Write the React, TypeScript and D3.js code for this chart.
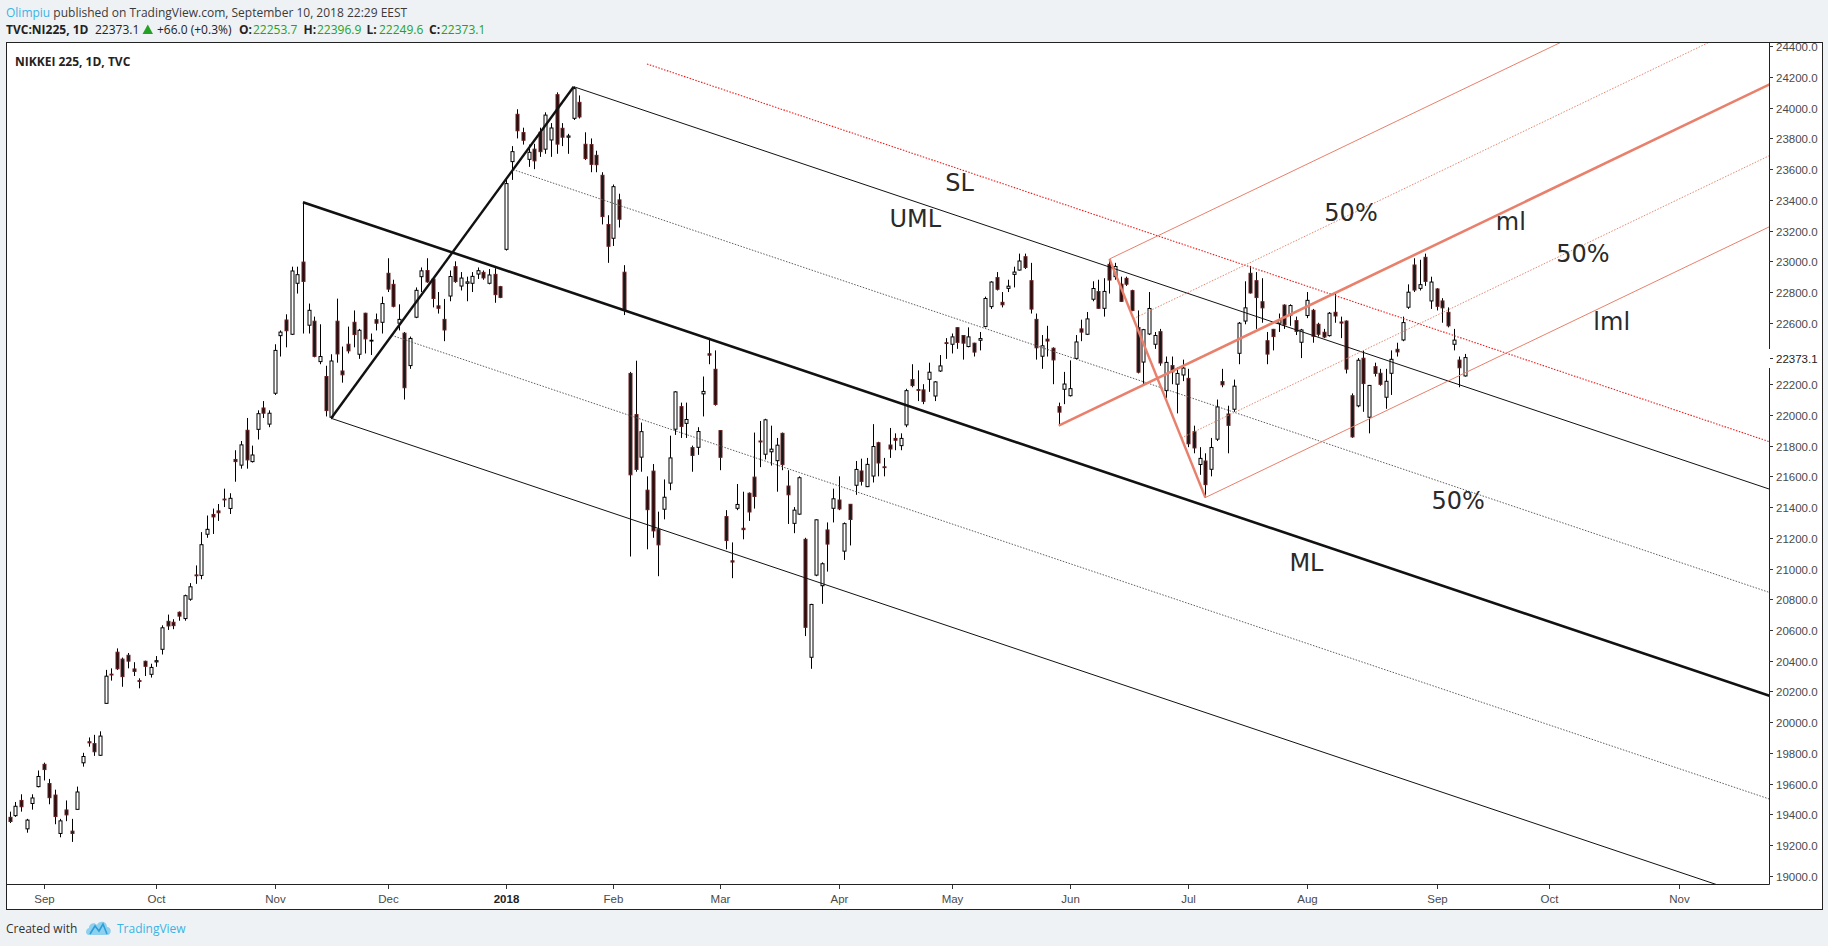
import * as d3 from "d3";
import { useEffect, useRef } from "react";

// [date, open, high, low, close]
type Bar = [string, number, number, number, number];

const bars: Bar[] = [
  ["2017-08-24", 19380, 19417, 19343, 19353],
  ["2017-08-25", 19391, 19480, 19383, 19452],
  ["2017-08-28", 19490, 19530, 19417, 19449],
  ["2017-08-29", 19305, 19370, 19280, 19362],
  ["2017-08-30", 19470, 19530, 19430, 19506],
  ["2017-08-31", 19580, 19685, 19575, 19646],
  ["2017-09-01", 19725, 19736, 19620, 19691],
  ["2017-09-04", 19600, 19630, 19465, 19508],
  ["2017-09-05", 19525, 19560, 19335, 19385],
  ["2017-09-06", 19275, 19370, 19250, 19357],
  ["2017-09-07", 19428, 19490, 19355, 19396],
  ["2017-09-08", 19290, 19370, 19220, 19275],
  ["2017-09-11", 19432, 19580, 19430, 19545],
  ["2017-09-12", 19735, 19800, 19710, 19776],
  ["2017-09-13", 19872, 19900, 19840, 19865],
  ["2017-09-14", 19860, 19917, 19780, 19807],
  ["2017-09-15", 19784, 19940, 19780, 19909],
  ["2017-09-19", 20122, 20340, 20120, 20299],
  ["2017-09-20", 20312, 20350, 20270, 20310],
  ["2017-09-21", 20455, 20480, 20340, 20347],
  ["2017-09-22", 20410, 20420, 20230, 20296],
  ["2017-09-25", 20435, 20450, 20350, 20397],
  ["2017-09-26", 20346, 20390, 20300, 20330],
  ["2017-09-27", 20270, 20285, 20220, 20267],
  ["2017-09-28", 20396, 20400, 20300, 20363],
  ["2017-09-29", 20311, 20380, 20290, 20356],
  ["2017-10-02", 20392, 20430, 20360, 20400],
  ["2017-10-03", 20474, 20630, 20440, 20614],
  ["2017-10-04", 20656, 20700, 20600, 20626],
  ["2017-10-05", 20650, 20670, 20605, 20628],
  ["2017-10-06", 20715, 20720, 20660, 20690],
  ["2017-10-10", 20674, 20830, 20660, 20823],
  ["2017-10-11", 20800, 20905, 20790, 20881],
  ["2017-10-12", 20958, 21020, 20900, 20954],
  ["2017-10-13", 20955, 21237, 20930, 21155],
  ["2017-10-16", 21223, 21345, 21200, 21255],
  ["2017-10-17", 21352, 21390, 21225, 21336],
  ["2017-10-18", 21375, 21420, 21310, 21363],
  ["2017-10-19", 21452, 21520, 21400, 21448],
  ["2017-10-20", 21391, 21490, 21355, 21457],
  ["2017-10-23", 21710, 21770, 21565, 21696],
  ["2017-10-24", 21673, 21830, 21650, 21805],
  ["2017-10-25", 21900, 21980, 21650, 21707],
  ["2017-10-26", 21696, 21800, 21690, 21739],
  ["2017-10-27", 21906, 22030, 21840, 22008],
  ["2017-10-30", 22045, 22090, 21980, 22011],
  ["2017-10-31", 21940, 22030, 21920, 22011],
  ["2017-11-01", 22141, 22460, 22130, 22420],
  ["2017-11-02", 22516, 22550, 22380, 22539],
  ["2017-11-06", 22618, 22655, 22440, 22548],
  ["2017-11-07", 22525, 22965, 22520, 22937],
  ["2017-11-08", 22857, 22965, 22790, 22913],
  ["2017-11-09", 22995, 23385, 22530, 22869],
  ["2017-11-10", 22584, 22725, 22530, 22681],
  ["2017-11-13", 22610, 22640, 22375, 22381],
  ["2017-11-14", 22347, 22590, 22330, 22380],
  ["2017-11-15", 22250, 22320, 21990, 22028],
  ["2017-11-16", 21985, 22395, 21972, 22351],
  ["2017-11-17", 22610, 22757, 22340, 22397],
  ["2017-11-20", 22286, 22445, 22210, 22261],
  ["2017-11-21", 22460, 22575, 22400, 22417],
  ["2017-11-22", 22603, 22680, 22440, 22523],
  ["2017-11-24", 22395, 22560, 22365, 22551],
  ["2017-11-27", 22662, 22665, 22400, 22495],
  ["2017-11-28", 22481, 22530, 22390, 22486],
  ["2017-11-29", 22620, 22660, 22550, 22597],
  ["2017-11-30", 22603, 22770, 22530, 22725],
  ["2017-12-01", 22922, 23020, 22800, 22819],
  ["2017-12-04", 22850, 22880, 22700, 22707],
  ["2017-12-05", 22597, 22720, 22550, 22622],
  ["2017-12-06", 22532, 22540, 22100, 22177],
  ["2017-12-07", 22321, 22510, 22300, 22498],
  ["2017-12-08", 22636, 22830, 22630, 22811],
  ["2017-12-11", 22900, 22960, 22800, 22938],
  ["2017-12-12", 22940, 23020, 22860, 22866],
  ["2017-12-13", 22884, 22890, 22700, 22758],
  ["2017-12-14", 22710, 22800, 22660, 22694],
  ["2017-12-15", 22622, 22755, 22480, 22553],
  ["2017-12-18", 22774, 22940, 22740, 22901],
  ["2017-12-19", 22965, 23000, 22860, 22868],
  ["2017-12-20", 22839, 22930, 22810, 22891],
  ["2017-12-21", 22857, 22900, 22740, 22866],
  ["2017-12-22", 22857, 22930, 22800, 22902],
  ["2017-12-25", 22917, 22960, 22885, 22939],
  ["2017-12-26", 22928, 22940, 22880, 22892],
  ["2017-12-27", 22857, 22950, 22850, 22911],
  ["2017-12-28", 22915, 22955, 22730, 22783],
  ["2017-12-29", 22835, 22840, 22760, 22765],
  ["2018-01-04", 23078, 23530, 23070, 23506],
  ["2018-01-05", 23649, 23750, 23530, 23714],
  ["2018-01-09", 23957, 23990, 23800, 23850],
  ["2018-01-10", 23838, 23870, 23760, 23788],
  ["2018-01-11", 23664, 23760, 23615, 23710],
  ["2018-01-12", 23730, 23765, 23600, 23654],
  ["2018-01-15", 23840, 23870, 23680, 23714],
  ["2018-01-16", 23730, 23970, 23700, 23952],
  ["2018-01-17", 23790, 23900, 23680, 23868],
  ["2018-01-18", 24085, 24100, 23700, 23763],
  ["2018-01-19", 23866, 23900, 23750, 23808],
  ["2018-01-22", 23808, 23830, 23700, 23816],
  ["2018-01-23", 23931, 24137, 23920, 24124],
  ["2018-01-24", 24035, 24080, 23930, 23940],
  ["2018-01-25", 23762, 23840, 23660, 23669],
  ["2018-01-26", 23760, 23800, 23580, 23631],
  ["2018-01-29", 23690, 23720, 23580, 23629],
  ["2018-01-30", 23560, 23580, 23240, 23291],
  ["2018-01-31", 23240, 23300, 22990, 23098],
  ["2018-02-01", 23150, 23500, 23100, 23486],
  ["2018-02-02", 23400, 23440, 23220, 23274],
  ["2018-02-05", 22929, 22975, 22650, 22682],
  ["2018-02-06", 22270, 22280, 21078, 21610],
  ["2018-02-07", 22002, 22353, 21630, 21645],
  ["2018-02-08", 21725, 21950, 21630, 21891],
  ["2018-02-09", 21510, 21600, 21125, 21383],
  ["2018-02-13", 21634, 21680, 21200, 21245],
  ["2018-02-14", 21256, 21370, 20950, 21154],
  ["2018-02-15", 21386, 21580, 21320, 21464],
  ["2018-02-16", 21556, 21865, 21510, 21720],
  ["2018-02-19", 21907, 22155, 21870, 22150],
  ["2018-02-20", 22054, 22080, 21850, 21925],
  ["2018-02-21", 21945, 22080, 21850, 21970],
  ["2018-02-22", 21787, 21800, 21630, 21736],
  ["2018-02-23", 21789, 21920, 21740, 21892],
  ["2018-02-26", 22137, 22250, 21990, 22153],
  ["2018-02-27", 22398, 22502, 22330, 22389],
  ["2018-02-28", 22297, 22420, 22060, 22068],
  ["2018-03-01", 21898, 21900, 21640, 21724],
  ["2018-03-02", 21338, 21380, 21125, 21182],
  ["2018-03-05", 21050, 21170, 20937, 21042],
  ["2018-03-06", 21392, 21550, 21380, 21417],
  ["2018-03-07", 21262, 21500, 21190, 21253],
  ["2018-03-08", 21490, 21495, 21310, 21368],
  ["2018-03-09", 21595, 21885, 21390, 21469],
  ["2018-03-12", 21830, 21960, 21660, 21824],
  ["2018-03-13", 21744, 21975, 21710, 21968],
  ["2018-03-14", 21760, 21930, 21670, 21777],
  ["2018-03-15", 21702, 21850, 21500, 21803],
  ["2018-03-16", 21880, 21885, 21640, 21676],
  ["2018-03-19", 21537, 21640, 21290, 21480],
  ["2018-03-20", 21294, 21400, 21230, 21380],
  ["2018-03-22", 21354, 21600, 21350, 21591],
  ["2018-03-23", 21190, 21200, 20560, 20617],
  ["2018-03-26", 20422, 20770, 20347, 20766],
  ["2018-03-27", 20957, 21320, 20950, 21317],
  ["2018-03-28", 20888, 21040, 20770, 21031],
  ["2018-03-29", 21251, 21300, 20980, 21159],
  ["2018-03-30", 21392, 21520, 21300, 21454],
  ["2018-04-02", 21446, 21600, 21380, 21388],
  ["2018-04-03", 21113, 21300, 21056, 21292],
  ["2018-04-04", 21418, 21420, 21150, 21319],
  ["2018-04-05", 21542, 21700, 21480, 21645],
  ["2018-04-06", 21635, 21715, 21540, 21567],
  ["2018-04-09", 21533, 21720, 21530, 21678],
  ["2018-04-10", 21602, 21940, 21560, 21794],
  ["2018-04-11", 21819, 21825, 21600, 21687],
  ["2018-04-12", 21662, 21720, 21600, 21660],
  ["2018-04-13", 21804, 21915, 21720, 21778],
  ["2018-04-16", 21847, 21880, 21770, 21835],
  ["2018-04-17", 21800, 21880, 21770, 21847],
  ["2018-04-18", 21935, 22170, 21920, 22158],
  ["2018-04-19", 22230, 22330, 22180, 22191],
  ["2018-04-20", 22165, 22290, 22090, 22162],
  ["2018-04-23", 22163, 22200, 22070, 22088],
  ["2018-04-24", 22232, 22340, 22150, 22278],
  ["2018-04-25", 22123, 22220, 22090, 22215],
  ["2018-04-26", 22286, 22390, 22280, 22319],
  ["2018-04-27", 22470, 22500, 22365, 22467],
  ["2018-05-01", 22460, 22530, 22400, 22508],
  ["2018-05-02", 22568, 22570, 22430, 22472],
  ["2018-05-07", 22517, 22520, 22360, 22467],
  ["2018-05-08", 22445, 22570, 22440, 22508],
  ["2018-05-09", 22467, 22470, 22380, 22409],
  ["2018-05-10", 22486, 22540, 22420, 22497],
  ["2018-05-11", 22575, 22770, 22570, 22758],
  ["2018-05-14", 22705, 22870, 22690, 22865],
  ["2018-05-15", 22894, 22930, 22810, 22818],
  ["2018-05-16", 22733, 22800, 22700, 22717],
  ["2018-05-17", 22824, 22880, 22800, 22838],
  ["2018-05-18", 22915, 22965, 22830, 22930],
  ["2018-05-21", 22943, 23050, 22940, 23002],
  ["2018-05-22", 23030, 23050, 22950, 22960],
  ["2018-05-23", 22874, 22990, 22660, 22689],
  ["2018-05-24", 22622, 22660, 22360, 22437],
  ["2018-05-25", 22382, 22520, 22300, 22450],
  ["2018-05-28", 22493, 22580, 22380, 22481],
  ["2018-05-29", 22434, 22440, 22200, 22358],
  ["2018-05-30", 22054, 22080, 21930, 22018],
  ["2018-05-31", 22167, 22280, 22070, 22201],
  ["2018-06-01", 22125, 22355, 22120, 22171],
  ["2018-06-04", 22368, 22520, 22360, 22475],
  ["2018-06-05", 22560, 22620, 22480, 22539],
  ["2018-06-06", 22525, 22670, 22520, 22625],
  ["2018-06-07", 22753, 22870, 22740, 22823],
  ["2018-06-08", 22803, 22880, 22690, 22694],
  ["2018-06-11", 22694, 22890, 22640, 22804],
  ["2018-06-12", 22980, 23015, 22790, 22878],
  ["2018-06-13", 22900, 22990, 22880, 22966],
  ["2018-06-14", 22851, 22900, 22735, 22739],
  ["2018-06-15", 22889, 22900, 22840, 22851],
  ["2018-06-18", 22809, 22815, 22675, 22680],
  ["2018-06-19", 22569, 22680, 22270, 22278],
  ["2018-06-20", 22344, 22560, 22200, 22555],
  ["2018-06-21", 22527, 22800, 22520, 22693],
  ["2018-06-22", 22460, 22540, 22430, 22517],
  ["2018-06-25", 22542, 22560, 22320, 22338],
  ["2018-06-26", 22158, 22380, 22110, 22342],
  ["2018-06-27", 22321, 22380, 22200, 22280],
  ["2018-06-28", 22200, 22310, 22010, 22270],
  ["2018-06-29", 22260, 22360, 22220, 22305],
  ["2018-07-02", 22238, 22300, 21790, 21812],
  ["2018-07-03", 21891, 21930, 21750, 21785],
  ["2018-07-04", 21677, 21790, 21610, 21717],
  ["2018-07-05", 21700, 21750, 21462, 21546],
  ["2018-07-06", 21646, 21850, 21600, 21788],
  ["2018-07-09", 21842, 22100, 21830, 22052],
  ["2018-07-10", 22217, 22300, 22180, 22196],
  ["2018-07-11", 22006, 22060, 21750, 21932],
  ["2018-07-12", 22037, 22230, 22020, 22187],
  ["2018-07-13", 22401, 22605, 22330, 22597],
  ["2018-07-17", 22611, 22870, 22590, 22697],
  ["2018-07-18", 22922, 22970, 22790, 22794],
  ["2018-07-19", 22874, 22930, 22560, 22764],
  ["2018-07-20", 22737, 22890, 22600, 22697],
  ["2018-07-23", 22483, 22540, 22330, 22396],
  ["2018-07-24", 22557, 22560, 22420, 22510],
  ["2018-07-25", 22597, 22660, 22540, 22614],
  ["2018-07-26", 22715, 22720, 22560, 22586],
  ["2018-07-27", 22650, 22720, 22580, 22712],
  ["2018-07-30", 22614, 22640, 22520, 22544],
  ["2018-07-31", 22473, 22560, 22370, 22553],
  ["2018-08-01", 22647, 22800, 22630, 22746],
  ["2018-08-02", 22681, 22690, 22470, 22512],
  ["2018-08-03", 22590, 22600, 22510, 22525],
  ["2018-08-06", 22538, 22560, 22500, 22507],
  ["2018-08-07", 22516, 22670, 22510, 22662],
  ["2018-08-08", 22668, 22800, 22600, 22644],
  ["2018-08-09", 22605, 22640, 22500, 22598],
  ["2018-08-10", 22611, 22615, 22270, 22298],
  ["2018-08-13", 22125, 22140, 21851, 21857],
  ["2018-08-14", 22059, 22370, 22050, 22356],
  ["2018-08-15", 22369, 22420, 22020, 22204],
  ["2018-08-16", 21985, 22195, 21880, 22192],
  ["2018-08-17", 22314, 22340, 22250, 22270],
  ["2018-08-20", 22271, 22300, 22190, 22199],
  ["2018-08-21", 22115, 22300, 22040, 22219],
  ["2018-08-22", 22271, 22420, 22130, 22362],
  ["2018-08-23", 22427, 22470, 22380, 22410],
  ["2018-08-24", 22488, 22640, 22480, 22601],
  ["2018-08-27", 22701, 22850, 22690, 22799],
  ["2018-08-28", 22976, 23020, 22800, 22813],
  ["2018-08-29", 22824, 23010, 22810, 22848],
  ["2018-08-30", 23026, 23050, 22840, 22869],
  ["2018-08-31", 22742, 22900, 22690, 22865],
  ["2018-09-03", 22820, 22825, 22680, 22707],
  ["2018-09-04", 22742, 22760, 22600, 22697],
  ["2018-09-05", 22668, 22700, 22570, 22580],
  ["2018-09-06", 22460, 22560, 22420, 22487],
  ["2018-09-07", 22357, 22380, 22180, 22307],
  ["2018-09-10", 22253.7, 22396.9, 22249.6, 22373.1],
];

const priceTicks = [
  19000, 19200, 19400, 19600, 19800, 20000, 20200, 20400, 20600, 20800, 21000,
  21200, 21400, 21600, 21800, 22000, 22200, 22600, 22800, 23000, 23200, 23400,
  23600, 23800, 24000, 24200, 24400,
];

const monthTicks: [string, string][] = [
  ["2017-09-01", "Sep"], ["2017-10-02", "Oct"], ["2017-11-01", "Nov"],
  ["2017-12-01", "Dec"], ["2018-01-04", "2018"], ["2018-02-01", "Feb"],
  ["2018-03-01", "Mar"], ["2018-04-02", "Apr"], ["2018-05-01", "May"],
  ["2018-06-01", "Jun"], ["2018-07-02", "Jul"], ["2018-08-01", "Aug"],
  ["2018-09-03", "Sep"], ["2018-10-01", "Oct"], ["2018-11-01", "Nov"],
];

// pitchfork handles: [A, B, C] as [date, price]
const forkBlack: [string, number][] = [["2017-11-09", 23385], ["2017-11-16", 21978], ["2018-01-23", 24137]];
const forkRed: [string, number][] = [["2018-05-30", 21930], ["2018-06-12", 23015], ["2018-07-05", 21462]];
const slAnchor: [string, number] = ["2018-02-09", 24285];

// annotation text: [label, bar number, price]
const notes: [string, number, number][] = [
  ["SL", 165.9, 23510], ["UML", 156.0, 23275], ["50%", 233.1, 23313],
  ["ml", 263.5, 23259], ["50%", 274.2, 23048], ["lml", 280.8, 22606],
  ["50%", 252.1, 21438], ["ML", 226.9, 21036],
];

const lastPrice = 22373.1;

const W = 1828, H = 946;
const pane = { left: 7, top: 43, right: 1822, bottom: 909 };
const plotRight = 1769, plotBottom = 884;

const parseDate = d3.timeParse("%Y-%m-%d");
const dateIndex = new Map(bars.map((b, i) => [b[0], i]));
const lastDate = parseDate(bars[bars.length - 1][0])!;

// future dates are placed on weekdays after the last bar
const idxOf = (s: string) => {
  const k = dateIndex.get(s);
  if (k !== undefined) return k;
  const d = parseDate(s)!;
  const extra = d3.timeDay
    .range(d3.timeDay.offset(lastDate, 1), d3.timeDay.offset(d, 1))
    .filter((t) => t.getDay() % 6 !== 0).length;
  return bars.length - 1 + extra;
};

const App = () => {
  const svgRef = useRef<SVGSVGElement | null>(null);

  useEffect(() => {
    const svg = d3.select(svgRef.current);
    svg.selectAll("*").remove();

    const x = d3.scaleLinear().domain([0, 258]).range([9.66, 9.66 + 258 * 5.64]);
    const y = d3.scaleLinear().domain([19000, 24200]).range([875.7, 77]);
    const ui = "'Open Sans', 'DejaVu Sans', sans-serif";
    const axisFont = "'Liberation Sans', Arial, sans-serif";

    svg.append("rect").attr("width", W).attr("height", H).attr("fill", "#eff2f5");

    const defs = svg.append("defs");
    defs.append("clipPath").attr("id", "plot").append("rect")
      .attr("x", pane.left).attr("y", pane.top)
      .attr("width", plotRight - pane.left).attr("height", plotBottom - pane.top);
    defs.append("clipPath").attr("id", "axis").append("rect")
      .attr("x", plotRight).attr("y", pane.top)
      .attr("width", pane.right - plotRight).attr("height", plotBottom - pane.top);

    // header
    const h1 = svg.append("text").attr("x", 6).attr("y", 17)
      .style("font-family", ui).style("font-size", "12px").attr("fill", "#3a3a3a");
    h1.append("tspan").attr("fill", "#3bb3e4").text("Olimpiu");
    h1.append("tspan").text(" published on TradingView.com, September 10, 2018 22:29 EEST");

    const green = "#24a124";
    const h2 = svg.append("g").style("font-family", ui).style("font-size", "12px");
    const seg = (tx: number, s: string, bold: boolean, col: string) =>
      h2.append("text").attr("x", tx).attr("y", 34).attr("fill", col)
        .style("font-weight", bold ? "700" : "400").text(s);
    seg(6, "TVC:NI225, 1D", true, "#222");
    seg(95, "22373.1", false, "#222");
    h2.append("path").attr("d", "M142.5,34 L147.8,24.5 L153,34 Z").attr("fill", green);
    seg(157, "+66.0 (+0.3%)", false, "#222");
    seg(239, "O:", true, "#222");
    seg(253, "22253.7", false, green);
    seg(303.5, "H:", true, "#222");
    seg(317, "22396.9", false, green);
    seg(366.5, "L:", true, "#222");
    seg(379, "22249.6", false, green);
    seg(429, "C:", true, "#222");
    seg(441, "22373.1", false, green);

    // pane
    svg.append("rect")
      .attr("x", pane.left - 0.5).attr("y", pane.top - 0.5)
      .attr("width", pane.right - pane.left + 1).attr("height", pane.bottom - pane.top + 1)
      .attr("fill", "#fff").attr("stroke", "#222").attr("stroke-width", 1);

    svg.append("text").attr("x", 15).attr("y", 66)
      .style("font-family", ui).style("font-size", "12px").style("font-weight", "700")
      .attr("fill", "#222").text("NIKKEI 225, 1D, TVC");

    // candles
    const cg = svg.append("g").attr("clip-path", "url(#plot)");
    const cx = (i: number) => Math.round(x(i)) + 0.5;
    cg.selectAll("line.wick").data(bars).join("line")
      .attr("class", "wick")
      .attr("x1", (_, i) => cx(i)).attr("x2", (_, i) => cx(i))
      .attr("y1", (d) => y(d[2])).attr("y2", (d) => y(d[3]))
      .attr("stroke", "#000").attr("stroke-width", 1);
    cg.selectAll("rect.body").data(bars).join("rect")
      .attr("class", "body")
      .attr("x", (_, i) => cx(i) - 1.5).attr("width", 3)
      .attr("y", (d) => y(Math.max(d[1], d[4])))
      .attr("height", (d) => Math.max(0.8, Math.abs(y(d[1]) - y(d[4]))))
      .attr("fill", (d) => (d[4] >= d[1] ? "#ffffff" : "#161616"))
      .attr("stroke", (d) => (d[4] >= d[1] ? "#000000" : "#6a1f1f"))
      .attr("stroke-width", 1);

    // pitchforks
    const lg = svg.append("g").attr("clip-path", "url(#plot)").attr("fill", "none");
    const line = d3.line();
    type P = [number, number];
    const pt = ([d, p]: [string, number]): P => [x(idxOf(d)), y(p)];

    const fork = (pts: [string, number][], col: string, dotCol: string) => {
      const [A, B, C] = pts.map(pt);
      const M: P = [(B[0] + C[0]) / 2, (B[1] + C[1]) / 2];
      const dir: P = [M[0] - A[0], M[1] - A[1]];
      const ext = (s: P): P[] => {
        const t = (2000 - s[0]) / dir[0];
        return [s, [s[0] + dir[0] * t, s[1] + dir[1] * t]];
      };
      const at = (f: number): P => [B[0] + (C[0] - B[0]) * f, B[1] + (C[1] - B[1]) * f];
      const draw = (p: P[], w: number, c: string, dash?: string) =>
        lg.append("path").attr("d", line(p)).attr("stroke", c)
          .attr("stroke-width", w).attr("stroke-dasharray", dash ?? null);
      draw(ext(at(0.25)), 1, dotCol, "1.5 1.5");
      draw(ext(at(0.75)), 1, dotCol, "1.5 1.5");
      draw(ext(B), 1, col);
      draw(ext(C), 1, col);
      draw([B, C], 2.4, col);
      draw(ext(A), 2.6, col);
      return dir;
    };

    const mlDir = fork(forkBlack, "#111", "#5e5e5e");
    const s0 = pt(slAnchor);
    const t = (2000 - s0[0]) / mlDir[0];
    lg.append("path")
      .attr("d", line([s0, [s0[0] + mlDir[0] * t, s0[1] + mlDir[1] * t]]))
      .attr("stroke", "#f01c1c").attr("stroke-width", 1.1).attr("stroke-dasharray", "1.5 1.5");
    fork(forkRed, "#e8806c", "#e58873");

    // annotation labels
    svg.append("g").selectAll("text").data(notes).join("text")
      .attr("x", (d) => x(d[1])).attr("y", (d) => y(d[2]))
      .attr("dominant-baseline", "central")
      .style("font-family", "'DejaVu Sans', sans-serif").style("font-size", "24px")
      .attr("fill", "#2a2a2a").text((d) => d[0]);

    // axes lines
    svg.append("line").attr("x1", pane.left).attr("x2", plotRight + 0.5)
      .attr("y1", plotBottom + 0.5).attr("y2", plotBottom + 0.5)
      .attr("stroke", "#222").attr("stroke-width", 1);
    svg.append("line").attr("x1", plotRight + 0.5).attr("x2", plotRight + 0.5)
      .attr("y1", pane.top).attr("y2", plotBottom + 0.5)
      .attr("stroke", "#222").attr("stroke-width", 1);

    // price axis
    const pa = svg.append("g").attr("clip-path", "url(#axis)");
    const pTick = pa.selectAll("g").data(priceTicks).join("g")
      .attr("transform", (d) => `translate(0,${Math.round(y(d)) + 0.5})`);
    pTick.append("line").attr("x1", plotRight).attr("x2", plotRight + 4)
      .attr("stroke", "#333");
    pTick.append("text").attr("x", plotRight + 7).attr("dy", "0.35em")
      .style("font-family", axisFont).style("font-size", "11.5px")
      .attr("fill", "#4a4a4a").text((d) => d3.format(".1f")(d));

    const ly = Math.round(y(lastPrice)) + 0.5;
    svg.append("rect").attr("x", plotRight - 3).attr("y", ly - 9.5)
      .attr("width", pane.right - plotRight + 2).attr("height", 19).attr("fill", "#fff");
    svg.append("line").attr("x1", plotRight + 1).attr("x2", plotRight + 4)
      .attr("y1", ly).attr("y2", ly).attr("stroke", "#333");
    svg.append("text").attr("x", plotRight + 7).attr("y", ly).attr("dy", "0.35em")
      .style("font-family", axisFont).style("font-size", "11.5px")
      .attr("fill", "#222").text(d3.format(".1f")(lastPrice));

    // time axis
    const tTick = svg.append("g").selectAll("g").data(monthTicks).join("g")
      .attr("transform", (d) => `translate(${cx(idxOf(d[0]))},0)`);
    tTick.append("line").attr("y1", plotBottom + 1).attr("y2", plotBottom + 5)
      .attr("stroke", "#333");
    tTick.append("text").attr("y", plotBottom + 19).attr("text-anchor", "middle")
      .style("font-family", axisFont).style("font-size", "11.5px")
      .style("font-weight", (d) => (d[1] === "2018" ? "700" : "400"))
      .attr("fill", (d) => (d[1] === "2018" ? "#222" : "#4a4a4a"))
      .text((d) => d[1]);

    // footer
    svg.append("text").attr("x", 6).attr("y", 933)
      .style("font-family", ui).style("font-size", "12px").attr("fill", "#333")
      .text("Created with");
    svg.append("path")
      .attr("d", "M89,935 C85,935 85,929 89,928 C89,923 95,922 97,925 C99,920 107,921 107,927 C112,927 112,935 107,935 Z")
      .attr("fill", "#8fd0ee");
    svg.append("path").attr("d", "M90,934 L95,926 L99,931 L103,924 L107,934")
      .attr("fill", "none").attr("stroke", "#2b9fd9").attr("stroke-width", 1.6);
    svg.append("text").attr("x", 117).attr("y", 933)
      .style("font-family", ui).style("font-size", "12px").attr("fill", "#3bb3e4")
      .text("TradingView");
  }, []);

  return (
    <svg
      ref={svgRef}
      width={W}
      height={H}
      style={{ position: "absolute", left: 0, top: 0, display: "block" }}
    />
  );
};

export default App;
